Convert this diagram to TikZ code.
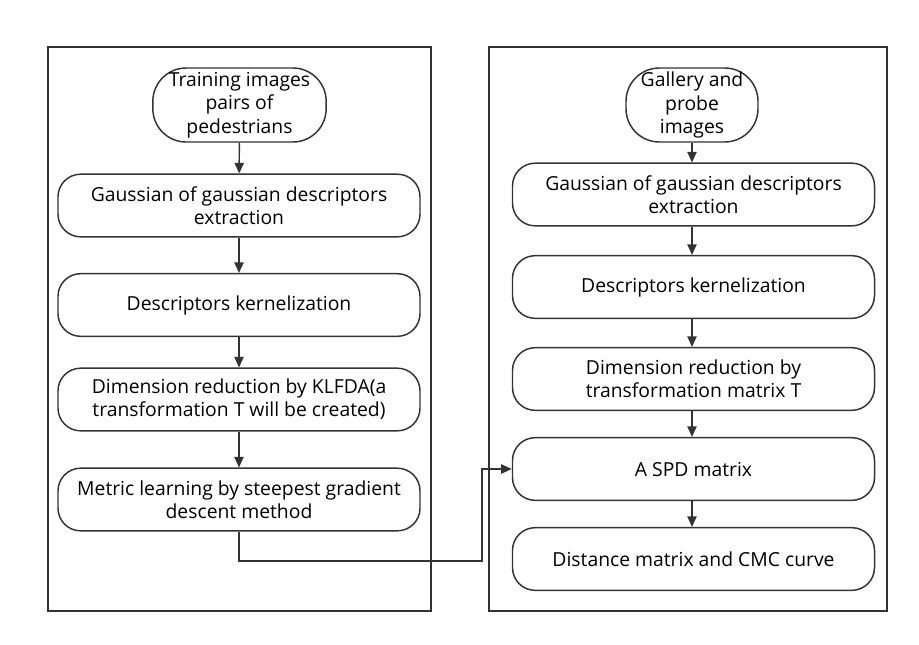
\documentclass[tikz,border=0pt]{standalone}
\usepackage{fontspec}
\setmainfont{Open Sans}
\usetikzlibrary{arrows.meta}
\definecolor{ink}{RGB}{51,51,51}
\tikzset{
  stepbox/.style={draw=ink, line width=1.1pt, rounded corners=17pt, align=center,
    minimum width=271.5pt, minimum height=47pt, inner sep=2pt, font=\fontsize{14.5}{17.5}\selectfont},
  startbox/.style={stepbox, rounded corners=25pt, minimum height=55.5pt},
  frame/.style={draw=ink, line width=1.1pt},
  flow/.style={draw=ink, line width=1.1pt, -{Triangle[length=8pt,width=7pt]}}
}
\begin{document}
\begin{tikzpicture}[x=0.75pt,y=-0.75pt]
\useasboundingbox (0,0) rectangle (919,644);
% outer frames
\draw[frame] (48,47) rectangle (431,611);
\draw[frame] (489,47) rectangle (887,611);
% training side
\node[startbox, minimum width=130pt] (train) at (239.5,105) {Training images\\pairs of\\pedestrians};
\node[stepbox] (lgog) at (239,205.5) {Gaussian of gaussian descriptors\\extraction};
\node[stepbox] (lkern) at (239,305) {Descriptors kernelization};
\node[stepbox] (lklfda) at (239,399.5) {Dimension reduction by KLFDA(a\\transformation T will be created)};
\node[stepbox] (lmetric) at (239,499.5) {Metric learning by steepest gradient\\descent method};
% testing side
\node[startbox, minimum width=99pt] (gallery) at (692,105) {Gallery and\\probe\\images};
\node[stepbox] (rgog) at (693.5,194.5) {Gaussian of gaussian descriptors\\extraction};
\node[stepbox] (rkern) at (693.5,287) {Descriptors kernelization};
\node[stepbox] (rdim) at (693.5,379) {Dimension reduction by\\transformation matrix T};
\node[stepbox] (spd) at (693.5,469) {A SPD matrix};
\node[stepbox] (dist) at (693.5,559) {Distance matrix and CMC curve};
\coordinate (turn) at (482,561);
% connectors
\draw[flow] (train) -- (lgog);
\draw[flow] (lgog) -- (lkern);
\draw[flow] (lkern) -- (lklfda);
\draw[flow] (lklfda) -- (lmetric);
\draw[flow] (gallery) -- (gallery|-rgog.north);
\draw[flow] (gallery|-rgog.south) -- (gallery|-rkern.north);
\draw[flow] (gallery|-rkern.south) -- (gallery|-rdim.north);
\draw[flow] (gallery|-rdim.south) -- (gallery|-spd.north);
\draw[flow] (gallery|-spd.south) -- (gallery|-dist.north);
\draw[flow] (lmetric.south) |- (turn) |- (spd.west);
\end{tikzpicture}
\end{document}
